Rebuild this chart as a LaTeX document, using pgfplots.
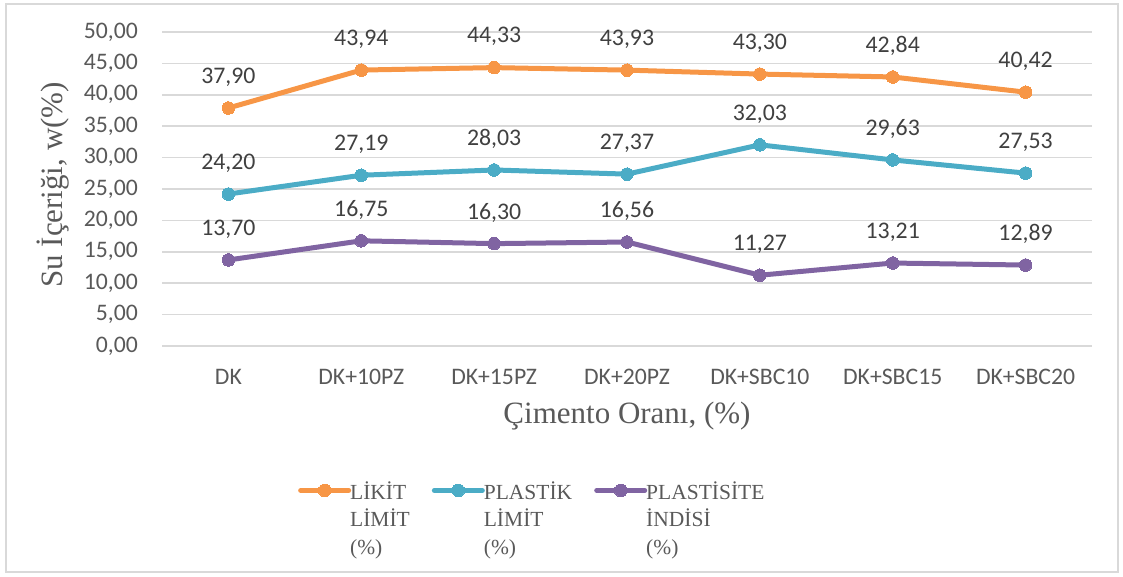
\documentclass[border=0pt]{standalone}
\usepackage{pgfplots}
\pgfplotsset{compat=1.18}
\usepackage{fontspec}
\setmainfont{Liberation Serif}
\newfontfamily\calibri{Carlito}
\definecolor{lk}{HTML}{F79646}
\definecolor{pl}{HTML}{4BACC6}
\definecolor{pi}{HTML}{8064A2}
\definecolor{gridc}{HTML}{D9D9D9}
\definecolor{tickc}{HTML}{595959}
\definecolor{labc}{HTML}{404040}
\begin{document}
\begin{tikzpicture}
\useasboundingbox (0,0) rectangle (1123bp,577bp);
\draw[gridc, line width=1.2bp] (6bp,5bp) rectangle (1118bp,573bp);
\begin{axis}[
  at={(162bp,231bp)}, anchor=south west,
  scale only axis, width=930bp, height=314bp,
  xmin=-0.5, xmax=6.5, ymin=0, ymax=50,
  ytick={0,5,...,50},
  xtick={0,...,6},
  xticklabels={DK, DK+10PZ, DK+15PZ, DK+20PZ, DK+SBC10, DK+SBC15, DK+SBC20},
  ymajorgrids, major grid style={gridc, line width=1.5bp},
  axis line style={draw=none},
  major tick length=0pt,
  tick label style={font=\calibri\fontsize{23.7bp}{28bp}\selectfont, text=tickc},
  /pgf/number format/assume math mode=true,
  yticklabel style={/pgf/number format/fixed, /pgf/number format/fixed zerofill, /pgf/number format/precision=2, /pgf/number format/use comma, /pgf/number format/1000 sep={}},
  yticklabel style={anchor=east, inner sep=0pt, xshift=-24bp},
  xticklabel style={anchor=base, inner sep=0pt, yshift=-39bp},
  every axis x label/.style={at={(axis description cs:0.5,0)}, anchor=base, inner sep=0pt, yshift=-77bp},
  every axis y label/.style={at={(axis description cs:-0.1065,0.513)}, rotate=90, anchor=base, inner sep=0pt},
  label style={font=\fontsize{31bp}{36bp}\selectfont, text=tickc},
  xlabel={Çimento Oranı, (\%)},
  ylabel={Su İçeriği, w(\%)},
  nodes near coords={\pgfmathprintnumber[fixed, fixed zerofill, precision=2, use comma, assume math mode=true]{\pgfplotspointmeta}},
  every node near coord/.style={font=\calibri\fontsize{23.8bp}{28bp}\selectfont, text=labc, anchor=center, yshift=31bp},
  legend columns=3,
  legend style={draw=none, fill=none, at={(0.1462,-0.42)}, anchor=north west, inner sep=0pt,
    font=\fontsize{21.5bp}{27.5bp}\selectfont, text=tickc,
    /tikz/every even column/.append style={column sep=20bp},
    /tikz/every odd column/.append style={column sep=-3bp}},
  legend cell align=left,
  legend image code/.code={\draw[mark repeat=2,mark phase=2,#1, line cap=round] plot coordinates {(0bp,0bp)(24bp,0bp)(48bp,0bp)};},
  every axis plot/.append style={line width=5bp, mark=*, mark size=6.3bp},
]
\addplot[color=lk, mark options={solid, fill=lk, draw=lk, line width=0pt}] coordinates {(0,37.90) (1,43.94) (2,44.33) (3,43.93) (4,43.30) (5,42.84) (6,40.42)};
\addlegendentry{\begin{tabular}[t]{@{}l@{}}LİKİT\\LİMİT\\(\%)\end{tabular}}
\addplot[color=pl, mark options={solid, fill=pl, draw=pl, line width=0pt}] coordinates {(0,24.20) (1,27.19) (2,28.03) (3,27.37) (4,32.03) (5,29.63) (6,27.53)};
\addlegendentry{\begin{tabular}[t]{@{}l@{}}PLASTİK\\LİMİT\\(\%)\end{tabular}}
\addplot[color=pi, mark options={solid, fill=pi, draw=pi, line width=0pt}] coordinates {(0,13.70) (1,16.75) (2,16.30) (3,16.56) (4,11.27) (5,13.21) (6,12.89)};
\addlegendentry{\begin{tabular}[t]{@{}l@{}}PLASTİSİTE\\İNDİSİ\\(\%)\end{tabular}}
\end{axis}
\end{tikzpicture}
\end{document}
